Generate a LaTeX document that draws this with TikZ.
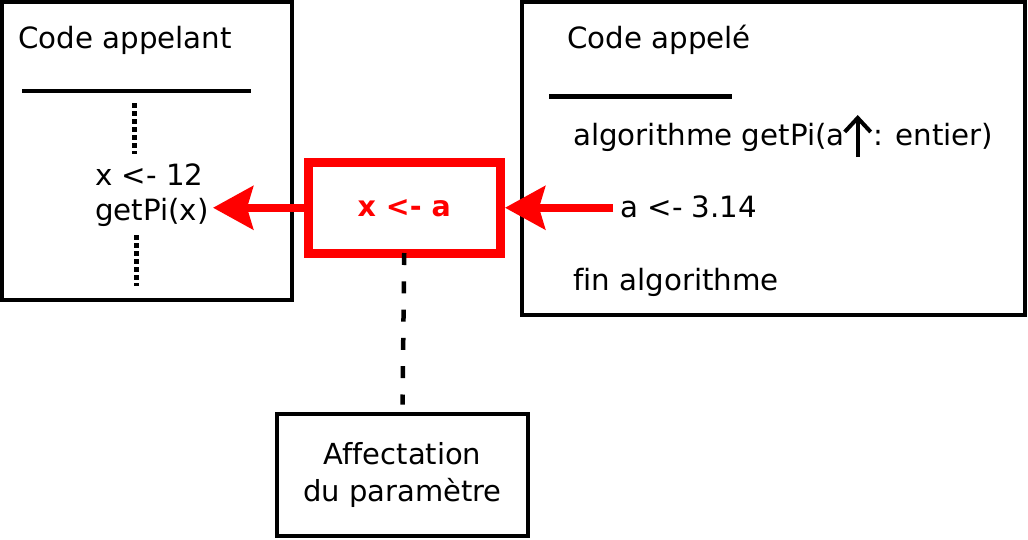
\documentclass[tikz,border=0pt]{standalone}
\usepackage{fontspec}
\setmainfont[Ligatures=NoCommon]{DejaVu Sans}
\usetikzlibrary{arrows.meta}
\begin{document}
\begin{tikzpicture}[x=1pt,y=-1pt,
  txt/.style={inner sep=0pt,anchor=base west,font=\fontsize{29.3}{37}\selectfont},
  blackbox/.style={draw=black,line width=4.2pt,inner sep=0pt},
  redbox/.style={draw=red,line width=9pt,inner sep=0pt,text=red,font=\fontsize{28.5}{33}\selectfont\bfseries},
  redarrow/.style={draw=red,line width=8pt,-{Stealth[length=40pt,width=43pt,inset=6pt]}},
  rule/.style={line width=4.2pt},
  dots/.style={line width=4.5pt,dash pattern=on 4.5pt off 3.5pt},
  dashline/.style={line width=4.5pt,dash pattern=on 12pt off 16.3pt}]
\useasboundingbox (0,0) rectangle (1028,539);
% boxes
\node[blackbox,minimum width=290pt,minimum height=298pt] (caller) at (147,151) {};
\node[blackbox,minimum width=503pt,minimum height=313pt] (callee) at (773.5,158.5) {};
\node[redbox,minimum width=192.5pt,minimum height=91.5pt] (assign) at (404.25,207.75) {x <- a};
\node[blackbox,minimum width=251pt,minimum height=121.5pt,align=center,font=\fontsize{29}{37}\selectfont] (aff) at (402.5,475) {Affectation\\du paramètre};
% caller content
\node[txt] (t1) at (18,48) {Code appelant};
\coordinate (r1a) at (22,91);
\coordinate (r1b) at (251,91);
\draw[rule] (r1a) -- (r1b);
\coordinate (d1a) at (134.5,103);
\coordinate (d1b) at (134.5,154);
\draw[dots] (d1a) -- (d1b);
\node[txt] (x12) at (95,185) {x <- 12};
\node[txt] (getpi) at (95,220) {getPi(x)};
\coordinate (d2a) at (136.5,235);
\coordinate (d2b) at (136.5,286);
\draw[dots] (d2a) -- (d2b);
% callee content
\node[txt] (t2) at (567,48) {Code appelé};
\coordinate (r2a) at (549,96.5);
\coordinate (r2b) at (732,96.5);
\draw[rule] (r2a) -- (r2b);
\node[txt] (alg) at (573,145) {algorithme getPi(a};
\node[txt] (ent) at (873,145) {: entier)};
\coordinate (ua) at (857.7,157);
\coordinate (ub) at (857.7,115);
\draw[line width=4pt,-{Straight Barb[length=14pt,width=26pt]}] (ua) -- (ub);
\node[txt] (a314) at (620,217) {a <- 3.14};
\node[txt] (fin) at (573,290) {fin algorithme};
% arrows
\coordinate (ltip) at (213,207.75);
\draw[redarrow] (assign.west) -- (ltip);
\draw[redarrow] ([xshift=-7pt]a314.west |- assign.east) -- (assign.east);
\draw[dashline] ([yshift=5pt]assign.south) -- ([yshift=7.5pt]aff.north);
\end{tikzpicture}
\end{document}
